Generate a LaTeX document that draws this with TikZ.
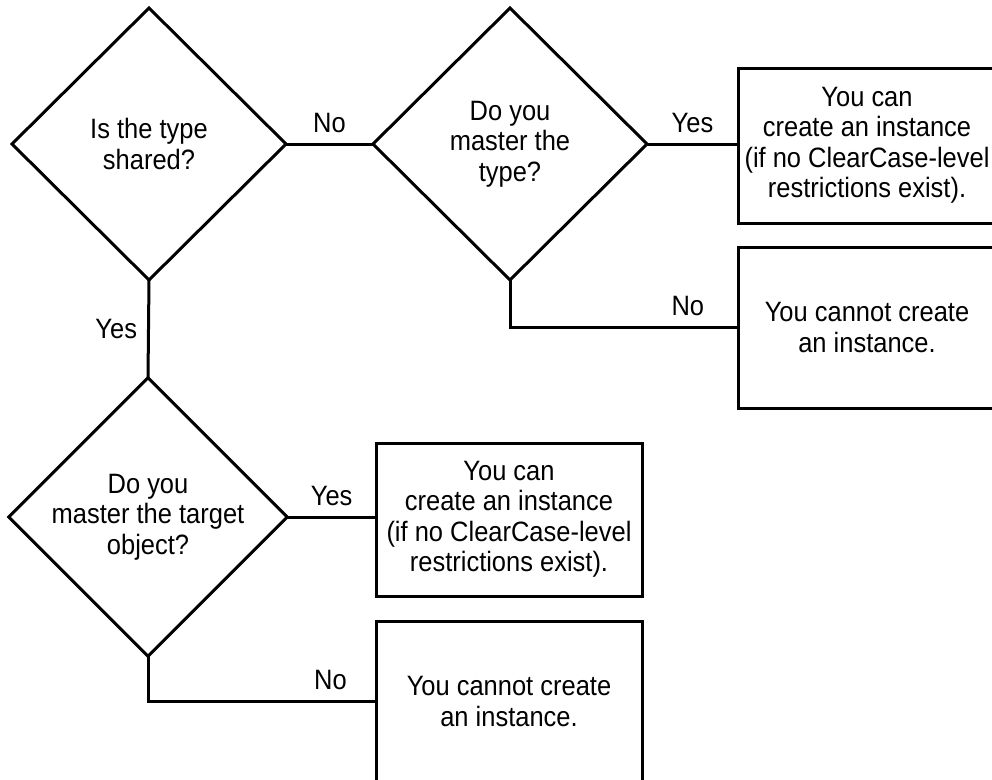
\documentclass[tikz,border=0pt]{standalone}
\usepackage{fontspec}
\setmainfont{Liberation Sans}[FakeStretch=0.91]
\usetikzlibrary{shapes.geometric}
\begin{document}
\begin{tikzpicture}[x=1pt,y=-1pt,
  every node/.style={font=\fontsize{28}{30.5}\selectfont},
  decision/.style={diamond, draw, line width=3pt, aspect=1,
    minimum width=274pt, minimum height=272pt,
    inner sep=0pt, outer sep=0pt, align=center},
  outcome/.style={rectangle, draw, line width=3pt,
    inner sep=0pt, outer sep=0pt, align=center},
  link/.style={line width=3pt},
  lbl/.style={inner sep=0pt}]
\useasboundingbox (0,0) rectangle (992,779);
\clip (0,0) rectangle (992,779);

% decisions
\node[decision] (shared) at (149,144) {Is the type\\shared?};
\node[decision] (mastertype) at (510,144) {Do you\\master the\\type?};
\node[decision] (mastertarget) at (148,517) {Do you\\master the target\\object?};

% outcomes
\node[outcome, minimum width=258pt, minimum height=155pt] (can1) at (867,145.5)
  {You can\\create an instance\\(if no ClearCase-level\\restrictions exist).};
\node[outcome, minimum width=258pt, minimum height=161pt] (cannot1) at (867,327.5)
  {You cannot create\\an instance.};
\node[outcome, minimum width=266pt, minimum height=153pt] (can2) at (509,519.5)
  {You can\\create an instance\\(if no ClearCase-level\\restrictions exist).};
\node[outcome, minimum width=266pt, minimum height=161pt] (cannot2) at (509,701.5)
  {You cannot create\\an instance.};

% connectors
\draw[link] (shared.east) -- node[lbl, above=10pt] {No} (mastertype.west);
\draw[link] (mastertype.east) -- node[lbl, above=10pt] {Yes} (mastertype.east -| can1.west);
\draw[link] (mastertype.south) |- node[lbl, above=10pt, pos=0.89] {No} (cannot1.west);
\draw[link] (shared.south) -- node[lbl, left=10pt] {Yes} (mastertarget.north);
\draw[link] (mastertarget.east) -- node[lbl, above=10pt] {Yes} (mastertarget.east -| can2.west);
\draw[link] (mastertarget.south) |- node[lbl, above=10pt, pos=0.9] {No} (cannot2.west);
\end{tikzpicture}
\end{document}
